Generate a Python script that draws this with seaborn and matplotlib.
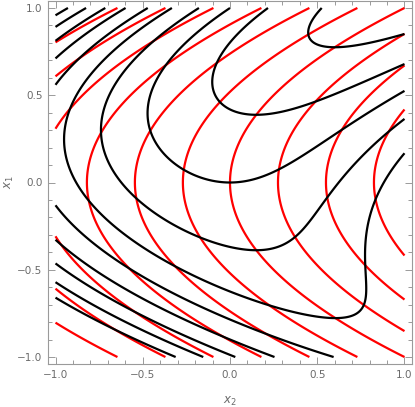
import numpy as np
import matplotlib
matplotlib.use('Agg')
import matplotlib.pyplot as plt
import seaborn as sns
from matplotlib.ticker import MultipleLocator

# contour levels
red_levels = [-1.645, -1.37, -1.095, -0.82, -0.545, -0.27, 0.0, 0.275, 0.55, 0.825]
black_levels = [-2.72, -2.33, -1.94, -1.555, -1.165, -0.777, -0.388, 0.0, 0.388, 0.775]

tick_values = [-1.0, -0.5, 0.0, 0.5, 1.0]
tick_labels = ['\u22121.0', '\u22120.5', '0.0', '0.5', '1.0']

x2 = np.linspace(-1, 1, 500)
x1 = np.linspace(-1, 1, 500)
X2, X1 = np.meshgrid(x2, x1)

red_f = X2 - X1 ** 2
black_f = X1 - (X2 - X1 ** 2) ** 2


def main():
    sns.set_style('ticks')
    plt.rcParams['font.family'] = ['DejaVu Sans']
    frame = '#9a9a9a'
    txt = '#6a6a6a'

    fig = plt.figure(figsize=(4.15, 4.07), dpi=100)
    ax = fig.add_axes([48 / 415, 43 / 407, 364 / 415, 363 / 407])

    ax.contour(X2, X1, red_f, levels=red_levels, colors='#ff0000',
               linewidths=1.6, linestyles='solid')
    ax.contour(X2, X1, black_f, levels=black_levels, colors='black',
               linewidths=1.6, linestyles='solid')

    ax.set_xlim(-1.043, 1.043)
    ax.set_ylim(-1.04, 1.04)
    ax.set_xticks(tick_values)
    ax.set_xticklabels(tick_labels)
    ax.set_yticks(tick_values)
    ax.set_yticklabels(tick_labels)
    ax.xaxis.set_minor_locator(MultipleLocator(0.1))
    ax.yaxis.set_minor_locator(MultipleLocator(0.1))
    ax.tick_params(which='both', direction='in', top=True, right=True,
                   color=frame, width=0.7, labelsize=7.5, labelcolor=txt, pad=4)
    ax.tick_params(which='major', length=5)
    ax.tick_params(which='minor', length=3)
    for s in ax.spines.values():
        s.set_color(frame)
        s.set_linewidth(0.8)

    ax.set_xlabel('$x_2$', color=txt, fontsize=8.5)
    ax.set_ylabel('$x_1$', color=txt, fontsize=8.5)
    ax.xaxis.set_label_coords(0.5, -0.085)
    ax.yaxis.set_label_coords(-0.088, 0.5)

    fig.savefig('out.png', dpi=100)


main()
